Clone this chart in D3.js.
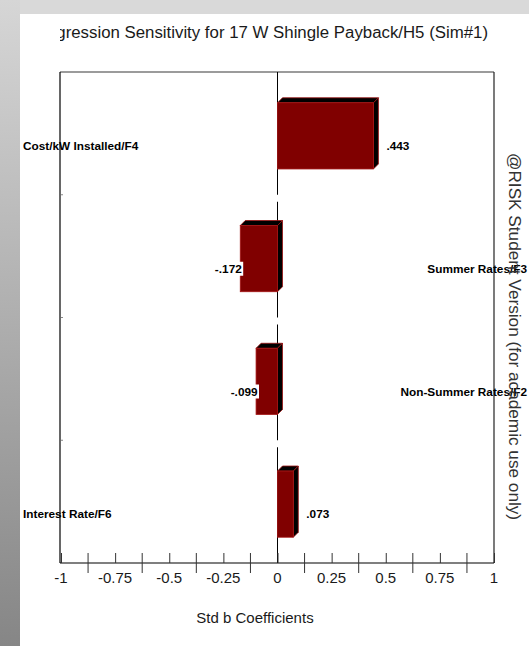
<!DOCTYPE html>
<html>
<head>
<meta charset="utf-8">
<script src="https://cdn.jsdelivr.net/npm/d3@7"></script>
<style>
  html, body { margin: 0; padding: 0; background: #fff; }
  svg { display: block; font-family: Arial, "Liberation Sans", sans-serif; }
</style>
</head>
<body>
<svg id="chart" width="529" height="646"></svg>
<script>
// Inputs ranked by standardized regression coefficient
const categories = ["Cost/kW Installed/F4", "Summer Rates/F3", "Non-Summer Rates/F2", "Interest Rate/F6"];
const coefficients = [0.443, -0.172, -0.099, 0.073];
const tickValues = [-1, -0.75, -0.5, -0.25, 0, 0.25, 0.5, 0.75, 1];
const titleText = "Regression Sensitivity for 17 W Shingle Payback/H5 (Sim#1)";
const axisTitle = "Std b Coefficients";
const watermark = "@RISK Student Version (for academic use only)";

const W = 529, H = 646;
const plot = { left: 61, right: 494, top: 72, bottom: 563 };
const depth = 5;

const svg = d3.select("#chart");
const defs = svg.append("defs");

// Window-like backdrop: grey strips on top and left
const grad = defs.append("linearGradient").attr("id", "sideGrad")
  .attr("x1", 0).attr("y1", 0).attr("x2", 0).attr("y2", 1);
grad.append("stop").attr("offset", "0%").attr("stop-color", "#d6d6d6");
grad.append("stop").attr("offset", "100%").attr("stop-color", "#868686");

svg.append("rect").attr("x", 0).attr("y", 0).attr("width", W).attr("height", H).attr("fill", "#d9d9d9");
svg.append("rect").attr("x", 0).attr("y", 0).attr("width", 20).attr("height", H).attr("fill", "url(#sideGrad)");
svg.append("rect").attr("x", 20).attr("y", 14).attr("width", W - 20).attr("height", H - 14).attr("fill", "#ffffff");

// Title, right-aligned and clipped on its left side at the plot edge
defs.append("clipPath").attr("id", "titleClip")
  .append("rect").attr("x", 60).attr("y", 0).attr("width", W - 60).attr("height", 70);
const title = svg.append("text")
  .attr("clip-path", "url(#titleClip)")
  .attr("x", 488).attr("y", 38)
  .attr("text-anchor", "end")
  .attr("font-size", "17px")
  .attr("fill", "#1a1a1a")
  .text(titleText);
// size the title so its tail from "gression" spans slightly more than the plot width
{
  const probe = svg.append("text").attr("font-size", "100px").text(titleText.slice(2));
  const w = probe.node().getComputedTextLength();
  probe.remove();
  title.attr("font-size", (100 * 432 / w).toFixed(2) + "px");
}

// Scales
const x = d3.scaleLinear().domain([-1, 1]).range([plot.left, plot.right]);
const y = d3.scaleBand().domain(categories).range([plot.top, plot.bottom])
  .paddingInner(0.42).paddingOuter(0.21);
const step = y.step();

// Plot frame
svg.append("line").attr("x1", plot.left - 1).attr("x2", plot.right).attr("y1", plot.top).attr("y2", plot.top)
  .attr("stroke", "#7a7a7a").attr("stroke-width", 1.5);
svg.append("line").attr("x1", plot.left - 1).attr("x2", plot.left - 1).attr("y1", plot.top).attr("y2", plot.bottom)
  .attr("stroke", "#000").attr("stroke-width", 1.2);
svg.append("line").attr("x1", plot.right).attr("x2", plot.right).attr("y1", plot.top).attr("y2", plot.bottom)
  .attr("stroke", "#222").attr("stroke-width", 1.2);

// Small marks between categories on the left edge
categories.slice(1).forEach((c, i) => {
  const yy = plot.top + step * (i + 1);
  svg.append("line").attr("x1", plot.left).attr("x2", plot.left + 2).attr("y1", yy).attr("y2", yy)
    .attr("stroke", "#888").attr("stroke-width", 1);
});

// Zero reference line, broken at category boundaries
categories.forEach((c, i) => {
  const y0 = plot.top + step * i + (i === 0 ? 0 : 7);
  const y1 = plot.top + step * (i + 1);
  svg.append("line").attr("x1", x(0)).attr("x2", x(0)).attr("y1", y0).attr("y2", y1)
    .attr("stroke", "#000").attr("stroke-width", 1);
});

// X axis with labelled ticks and intermediate ticks crossing the axis
const axisG = svg.append("g").attr("transform", `translate(0,${plot.bottom})`);
axisG.append("line").attr("x1", plot.left - 1).attr("x2", plot.right).attr("stroke", "#000").attr("stroke-width", 1.2);
const xAxis = d3.axisTop(x).tickValues(tickValues).tickSize(10).tickFormat("");
axisG.append("g").call(xAxis).call(g => {
  g.select(".domain").remove();
  g.selectAll(".tick line").attr("stroke", "#333");
});
const midTicks = d3.pairs(tickValues).map(([a, b]) => (a + b) / 2);
axisG.selectAll("line.mid").data(midTicks).join("line").attr("class", "mid")
  .attr("x1", d => x(d)).attr("x2", d => x(d)).attr("y1", -10).attr("y2", 10)
  .attr("stroke", "#333").attr("stroke-width", 1);
axisG.selectAll("text.tl").data(tickValues).join("text").attr("class", "tl")
  .attr("x", d => x(d)).attr("y", 20)
  .attr("text-anchor", "middle").attr("font-size", "15px").attr("fill", "#1a1a1a")
  .text(d => String(d));

svg.append("text")
  .attr("x", 255).attr("y", 623)
  .attr("text-anchor", "middle").attr("font-size", "15px").attr("fill", "#1a1a1a")
  .text(axisTitle);

// 3D bars
const rows = categories.map((c, i) => ({ name: c, value: coefficients[i] }));
const fmt = v => v.toFixed(3).replace(/^(-?)0\./, "$1.");

const bars = svg.append("g");
rows.forEach(d => {
  const x0 = x(Math.min(0, d.value)), x1 = x(Math.max(0, d.value));
  const yt = y(d.name) + depth, yb = y(d.name) + y.bandwidth();
  const g = bars.append("g");
  // top face
  g.append("path")
    .attr("d", `M${x0},${yt}L${x0 + depth},${yt - depth}L${x1 + depth},${yt - depth}L${x1},${yt}Z`)
    .attr("fill", "#000").attr("stroke", "#9a1010").attr("stroke-width", 0.8);
  // side face
  g.append("path")
    .attr("d", `M${x1},${yt}L${x1 + depth},${yt - depth}L${x1 + depth},${yb - depth}L${x1},${yb}Z`)
    .attr("fill", "#000").attr("stroke", "#9a1010").attr("stroke-width", 0.8);
  // front face
  g.append("rect").attr("x", x0).attr("y", yt).attr("width", x1 - x0).attr("height", yb - yt)
    .attr("fill", "#800000").attr("stroke", "#a51616").attr("stroke-width", 0.8);

  const ly = (yt + yb) / 2 + 10;
  if (d.value >= 0) {
    g.append("text").attr("x", x1 + depth + 8).attr("y", ly).attr("dy", "0.35em")
      .attr("font-size", "11.8px").attr("font-weight", "bold").attr("fill", "#000")
      .text(fmt(d.value));
    svg.append("text").attr("x", 23).attr("y", ly).attr("dy", "0.35em")
      .attr("font-size", "11.8px").attr("font-weight", "bold").attr("fill", "#000")
      .attr("class", "cat").text(d.name);
  } else {
    const t = g.append("text").attr("x", x0 + 1.5).attr("y", ly).attr("dy", "0.35em")
      .attr("text-anchor", "end")
      .attr("font-size", "11.8px").attr("font-weight", "bold").attr("fill", "#000")
      .text(fmt(d.value));
    const bb = t.node().getBBox();
    g.insert("rect", "text").attr("x", bb.x - 1).attr("y", bb.y).attr("width", bb.width + 2).attr("height", bb.height)
      .attr("fill", "#fff");
    svg.append("text").attr("x", W - 2).attr("y", ly).attr("dy", "0.35em")
      .attr("text-anchor", "end")
      .attr("font-size", "11.8px").attr("font-weight", "bold").attr("fill", "#000")
      .attr("class", "cat").text(d.name);
  }
});

// Vertical watermark on the right
svg.append("text")
  .attr("transform", "translate(509,153) rotate(90)")
  .attr("font-size", "17.2px").attr("fill", "#333")
  .text(watermark);
</script>
</body>
</html>
